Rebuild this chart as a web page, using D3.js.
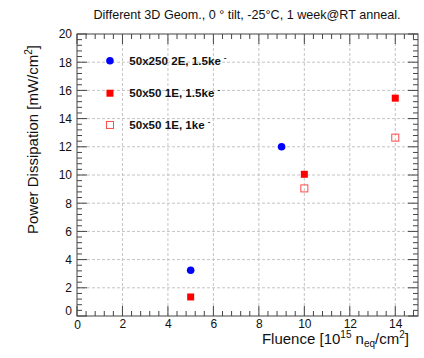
<!DOCTYPE html>
<html>
<head>
<meta charset="utf-8">
<script src="https://cdn.jsdelivr.net/npm/d3@7"></script>
<style>
  html, body { margin: 0; padding: 0; background: #fff; }
  svg { display: block; font-family: "Liberation Sans", Arial, Helvetica, sans-serif; }
</style>
</head>
<body>
<svg id="chart" width="424" height="358"></svg>
<script>
// Power dissipation vs. fluence for different 3D sensor geometries
const titleText = "Different 3D Geom., 0 \u00b0 tilt, -25\u00b0C, 1 week@RT anneal.";

const seriesNames = ["50x250 2E, 1.5ke", "50x50 1E, 1.5ke", "50x50 1E, 1ke"];
const seriesStyle = ["circle", "square", "openSquare"];

// fluence [1e15 neq/cm^2]
const fluence250_2E_15 = [5, 9];
const power250_2E_15   = [3.25, 12.0];

const fluence50_1E_15 = [5, 10, 14];
const power50_1E_15   = [1.35, 10.05, 15.45];

const fluence50_1E_10 = [10, 14];
const power50_1E_10   = [9.05, 12.65];

const xTicks = [0, 2, 4, 6, 8, 10, 12, 14];
const yTicks = [0, 2, 4, 6, 8, 10, 12, 14, 16, 18, 20];

const svg = d3.select("#chart");
const W = 424, H = 358;
const m = { left: 77, right: 6, top: 34, bottom: 42 };
const x = d3.scaleLinear().domain([0, 15]).range([m.left, W - m.right]);
const y = d3.scaleLinear().domain([0, 20]).range([H - m.bottom, m.top]);

const frameColor = "#444";
const gridColor = "#c4c4c4";

// grid lines at major ticks
const grid = svg.append("g");
grid.selectAll("line.gx").data(xTicks.filter(d => d > 0)).join("line")
  .attr("x1", d => x(d)).attr("x2", d => x(d))
  .attr("y1", y(0)).attr("y2", y(20))
  .attr("stroke", gridColor).attr("stroke-dasharray", "3,2").attr("stroke-width", 1);
grid.selectAll("line.gy").data(yTicks.filter(d => d > 0 && d < 20)).join("line")
  .attr("y1", d => y(d)).attr("y2", d => y(d))
  .attr("x1", x(0)).attr("x2", x(15))
  .attr("stroke", gridColor).attr("stroke-dasharray", "3,2").attr("stroke-width", 1);

// minor tick positions (5 subdivisions per major interval)
const xMinor = d3.range(0, 15.001, 0.4).filter(v => Math.abs(v / 2 - Math.round(v / 2)) > 1e-6);
const yMinor = d3.range(0, 20.001, 0.4).filter(v => Math.abs(v / 2 - Math.round(v / 2)) > 1e-6);

// axes, ticks pointing into the frame (ROOT style)
const major = 10, minor = 5;
const bottom = svg.append("g").attr("transform", `translate(0,${y(0)})`)
  .call(d3.axisBottom(x).tickValues(xTicks).tickSize(0).tickPadding(3).tickFormat(d3.format("d")));
bottom.select(".domain").remove();
bottom.selectAll("text").attr("font-size", 12).attr("fill", "#111")
  .attr("font-family", "Liberation Sans, Arial, sans-serif");

const left = svg.append("g").attr("transform", `translate(${x(0)},0)`)
  .call(d3.axisLeft(y).tickValues(yTicks).tickSize(0).tickPadding(5).tickFormat(d3.format("d")));
left.select(".domain").remove();
left.selectAll("text").attr("font-size", 12).attr("fill", "#111")
  .attr("font-family", "Liberation Sans, Arial, sans-serif");
// the zero labels sit slightly apart from the corner
left.selectAll(".tick").filter(d => d === 0).select("text").attr("dy", "-0.1em").attr("x", -5);
bottom.selectAll(".tick").filter(d => d === 0).select("text").attr("dy", "0.85em");

const ticks = svg.append("g").attr("stroke", frameColor).attr("stroke-width", 1);
function vTicks(vals, len, y0, dir) {
  ticks.selectAll(null).data(vals).join("line")
    .attr("x1", d => x(d)).attr("x2", d => x(d))
    .attr("y1", y0).attr("y2", y0 + dir * len);
}
function hTicks(vals, len, x0, dir) {
  ticks.selectAll(null).data(vals).join("line")
    .attr("y1", d => y(d)).attr("y2", d => y(d))
    .attr("x1", x0).attr("x2", x0 + dir * len);
}
vTicks(xTicks, major, y(0), -1);
vTicks(xMinor, minor, y(0), -1);
vTicks(xTicks, major, y(20), 1);
vTicks(xMinor, minor, y(20), 1);
hTicks(yTicks, major, x(0), 1);
hTicks(yMinor, minor, x(0), 1);
hTicks(yTicks, major, x(15), -1);
hTicks(yMinor, minor, x(15), -1);

// frame
svg.append("rect")
  .attr("x", x(0)).attr("y", y(20))
  .attr("width", x(15) - x(0)).attr("height", y(0) - y(20))
  .attr("fill", "none").attr("stroke", frameColor).attr("stroke-width", 1);

// markers
const red = "#ff0000", blue = "#0000ff";
function drawMarker(g, kind, cx, cy) {
  if (kind === "circle") {
    g.append("circle").attr("cx", cx).attr("cy", cy).attr("r", 3.8).attr("fill", blue);
  } else if (kind === "square") {
    g.append("rect").attr("x", cx - 3.5).attr("y", cy - 3.5).attr("width", 7).attr("height", 7).attr("fill", red);
  } else {
    g.append("rect").attr("x", cx - 3.5).attr("y", cy - 3.5).attr("width", 7).attr("height", 7)
      .attr("fill", "none").attr("stroke", "#ff4a4a").attr("stroke-width", 1);
  }
}
const pts = svg.append("g");
const series = [
  [fluence250_2E_15, power250_2E_15],
  [fluence50_1E_15, power50_1E_15],
  [fluence50_1E_10, power50_1E_10]
];
series.forEach(([xs, ys], i) => {
  xs.forEach((fx, j) => drawMarker(pts, seriesStyle[i], x(fx), y(ys[j])));
});

// legend
const leg = svg.append("g");
const legY = [18.1, 15.8, 13.55];
seriesNames.forEach((name, i) => {
  const ly = y(legY[i]);
  drawMarker(leg, seriesStyle[i], x(1.45), ly);
  const t = leg.append("text").attr("x", x(2.3)).attr("y", ly + 4)
    .attr("font-size", 11.6).attr("font-weight", "bold").attr("fill", "#111");
  t.append("tspan").text(name);
  t.append("tspan").attr("dx", 3).attr("dy", -5).attr("font-size", 8).text("-");
});

// title
svg.append("text").attr("x", 247).attr("y", 19).attr("text-anchor", "middle")
  .attr("font-size", 12.6).attr("fill", "#111").text(titleText);

// axis titles
const xt = svg.append("text").attr("x", 409).attr("y", 344).attr("text-anchor", "end")
  .attr("font-size", 15).attr("fill", "#111");
xt.append("tspan").text("Fluence [10");
xt.append("tspan").attr("dy", -6).attr("font-size", 10).text("15");
xt.append("tspan").attr("dy", 6).text(" n");
xt.append("tspan").attr("dy", 3).attr("font-size", 10).text("eq");
xt.append("tspan").attr("dy", -3).text("/cm");
xt.append("tspan").attr("dy", -6).attr("font-size", 10).text("2");
xt.append("tspan").attr("dy", 6).text("]");

const yt = svg.append("text").attr("transform", "translate(38,45) rotate(-90)")
  .attr("text-anchor", "end").attr("font-size", 15).attr("fill", "#111");
yt.append("tspan").text("Power Dissipation [mW/cm");
yt.append("tspan").attr("dy", -6).attr("font-size", 10).text("2");
yt.append("tspan").attr("dy", 6).text("]");
</script>
</body>
</html>
